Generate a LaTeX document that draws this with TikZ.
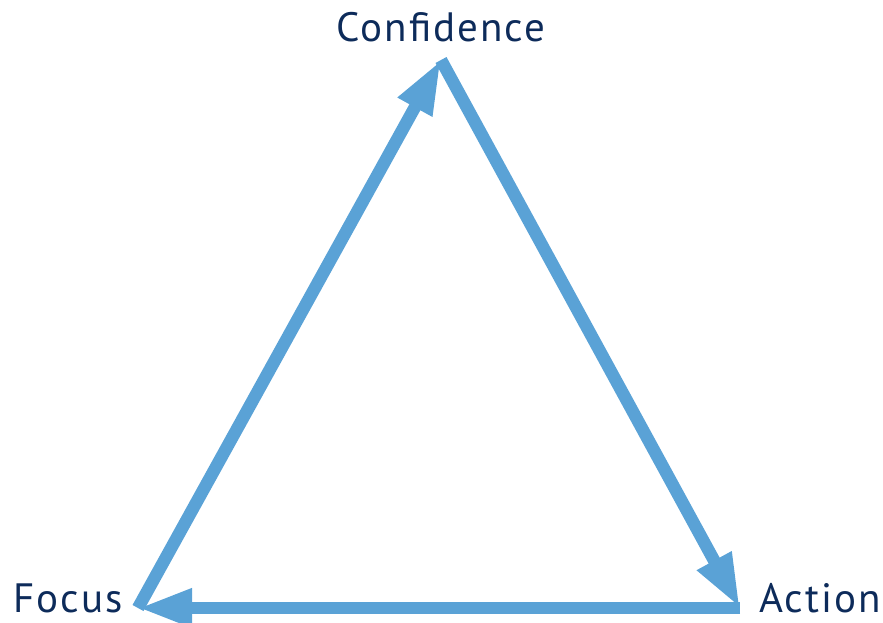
\documentclass[tikz,border=0pt]{standalone}
\usepackage{fontspec}
\setmainfont{PT Sans}[LetterSpace=5]
\usetikzlibrary{arrows.meta}
\definecolor{lineblue}{HTML}{5AA2D6}
\definecolor{textnavy}{HTML}{0D2B5A}
\tikzset{
  edge/.style={draw=lineblue, line width=12.5pt, -{Triangle[length=54pt,width=36pt]}},
  label/.style={text=textnavy, font=\fontsize{41}{44}\selectfont, inner sep=0pt}
}
\begin{document}
\begin{tikzpicture}[x=1pt,y=-1pt]
\useasboundingbox (0,0) rectangle (883,623);
\coordinate (T) at (441,60);
\coordinate (R) at (740,608);
\coordinate (L) at (138,608);
\node[label] (conf) at (441,27) {Confidence};
\node[label, anchor=east] (focus) at (123,598) {Focus};
\node[label, anchor=west] (action) at (759,598) {Action};
\draw[edge] (L) -- (T);
\draw[edge] (T) -- (R);
\draw[edge] (R) -- (L);
\end{tikzpicture}
\end{document}
